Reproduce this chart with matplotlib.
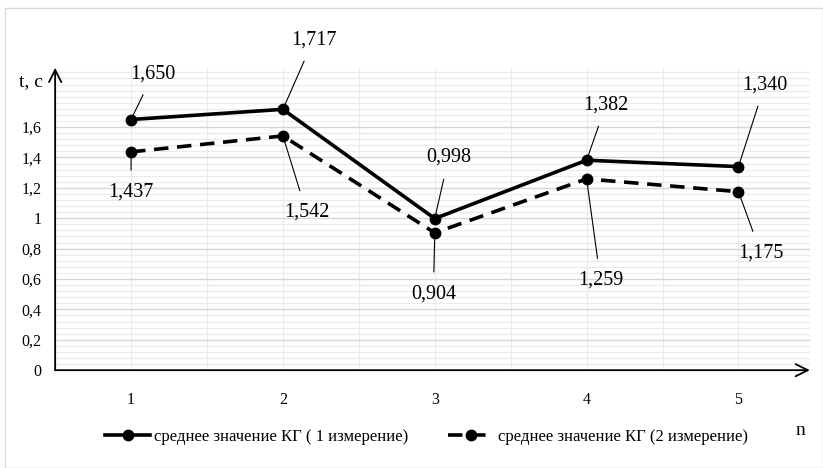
import numpy as np
import matplotlib.pyplot as plt
from matplotlib.ticker import MultipleLocator, FixedLocator

plt.rcParams['font.family'] = ['Liberation Serif', 'DejaVu Serif']

# ------------------------------------------
# DATA
# ------------------------------------------
n = [1, 2, 3, 4, 5]
t_first = [1.650, 1.717, 0.998, 1.382, 1.340]
t_second = [1.437, 1.542, 0.904, 1.259, 1.175]
y_ticks = [0, 0.2, 0.4, 0.6, 0.8, 1.0, 1.2, 1.4, 1.6]
label_first = "среднее значение КГ ( 1 измерение)"
label_second = "среднее значение КГ (2 измерение)"

# label offsets (points) for the value callouts
off_first = [(16, 33), (22, 50), (10, 44), (14, 40), (19, 59)]
off_second = [(0, -29), (17, -55), (-1, -44), (10, -73), (16, -44)]


def fmt(v):
    return f"{v:.3f}".replace(".", ",")


fig = plt.figure(figsize=(8.23, 4.68), dpi=100)
ax = fig.add_axes([0.067, 0.209, 0.917, 0.646])

ax.set_xlim(0.5, 5.47)
ax.set_ylim(0, 1.99)

# grid
ax.xaxis.set_major_locator(FixedLocator(n))
ax.xaxis.set_minor_locator(MultipleLocator(0.5))
ax.yaxis.set_major_locator(FixedLocator(y_ticks))
ax.yaxis.set_minor_locator(MultipleLocator(0.04))
ax.grid(which='major', axis='y', color='#d6d6d6', lw=1.0)
ax.grid(which='minor', axis='y', color='#ebebeb', lw=0.9)
ax.grid(which='both', axis='x', color='#ebebeb', lw=0.9)
ax.set_axisbelow(True)

ax.set_yticklabels([f"{v:g}".replace(".", ",") for v in y_ticks])
ax.tick_params(which='both', length=0, labelsize=11.5)
ax.tick_params(axis='x', pad=16)
ax.tick_params(axis='y', pad=10)

for s in ['top', 'right', 'left', 'bottom']:
    ax.spines[s].set_visible(False)

# axes with arrows
ax.annotate('', xy=(1.0, 0), xytext=(0, 0), xycoords='axes fraction',
            arrowprops=dict(arrowstyle='->', lw=1.3, color='black',
                            mutation_scale=22, shrinkA=0, shrinkB=0))
ax.annotate('', xy=(0, 1.0), xytext=(0, 0), xycoords='axes fraction',
            arrowprops=dict(arrowstyle='->', lw=1.3, color='black',
                            mutation_scale=22, shrinkA=0, shrinkB=0))

ax.text(-0.016, 0.955, "t, c", transform=ax.transAxes, fontsize=14,
        ha='right', va='center')
ax.text(0.987, -0.2, "n", transform=ax.transAxes, fontsize=14,
        ha='center', va='center')

# series
l1, = ax.plot(n, t_first, color='black', lw=2.6, marker='o', ms=7.5,
              label=label_first, zorder=3, clip_on=False)
l2, = ax.plot(n, t_second, color='black', lw=2.6, ls=(0, (4, 2.4)),
              marker='o', ms=7.5, label=label_second, zorder=3,
              clip_on=False)

# value callouts
for xs, ys, offs in [(n, t_first, off_first), (n, t_second, off_second)]:
    for x, y, (dx, dy) in zip(xs, ys, offs):
        ax.annotate(fmt(y), xy=(x, y), xytext=(dx, dy),
                    textcoords='offset points', fontsize=14.5,
                    ha='center', va='center',
                    arrowprops=dict(arrowstyle='-', lw=0.8, color='black',
                                    shrinkA=7, shrinkB=0),
                    annotation_clip=False)

fig.legend(handles=[l1, l2], loc='center', bbox_to_anchor=(0.518, 0.066),
           ncol=2, frameon=False, fontsize=12, handlelength=2.7,
           columnspacing=2.4, handletextpad=0.25)

# outer frame
fig.patches.append(plt.Rectangle((0.006, 0.0), 0.994, 0.983,
                                 transform=fig.transFigure, fill=False,
                                 edgecolor='#d9d9d9', lw=1.0))

fig.savefig("out.png", dpi=100)
